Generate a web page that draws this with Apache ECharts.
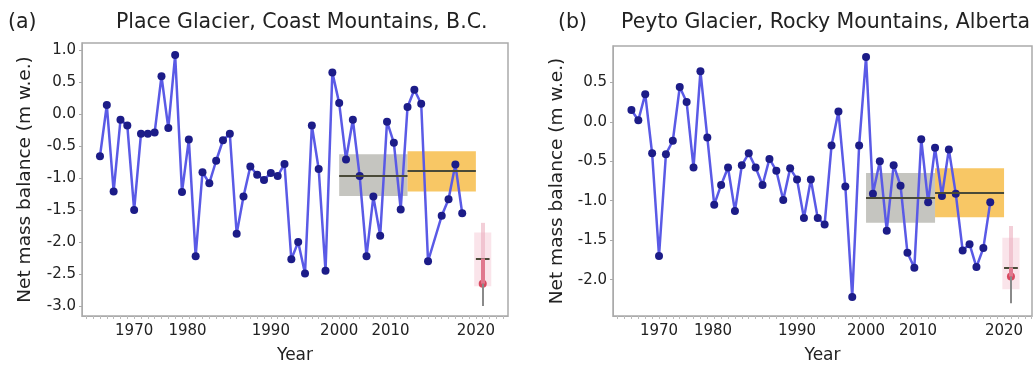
<!DOCTYPE html>
<html>
<head>
<meta charset="utf-8">
<script src="https://cdn.jsdelivr.net/npm/echarts@6/dist/echarts.min.js"></script>
<style>html,body{margin:0;padding:0;background:#fff;}#c{width:1035px;height:369px;}</style>
</head>
<body>
<div id="c"></div>
<script>
// ---------- DATA ----------
const yearsA = [1965,1966,1967,1968,1969,1970,1971,1972,1973,1974,1975,1976,1977,1978,1979,1980,1981,1982,1983,1984,1985,1986,1987,1988,1989,1990,1991,1992,1993,1994,1995,1996,1997,1998,1999,2000,2001,2002,2003,2004,2005,2006,2007,2008,2009,2010,2011,2012,2013,2015,2016,2017,2018];
const placeVals = [-0.66,0.14,-1.21,-0.09,-0.18,-1.50,-0.31,-0.31,-0.29,0.59,-0.22,0.92,-1.22,-0.40,-2.22,-0.91,-1.08,-0.73,-0.41,-0.31,-1.87,-1.29,-0.82,-0.95,-1.03,-0.92,-0.97,-0.78,-2.27,-2.00,-2.49,-0.18,-0.86,-2.45,0.65,0.17,-0.71,-0.09,-0.97,-2.22,-1.29,-1.90,-0.12,-0.45,-1.49,0.11,0.38,0.16,-2.30,-1.59,-1.33,-0.79,-1.55];

const yearsB = [1966,1967,1968,1969,1970,1971,1972,1973,1974,1975,1976,1977,1978,1979,1980,1981,1982,1983,1984,1985,1986,1987,1988,1989,1990,1991,1992,1993,1994,1995,1996,1997,1998,1999,2000,2001,2002,2003,2004,2005,2006,2007,2008,2009,2010,2011,2012,2013,2014,2015,2016,2017,2018];
const peytoVals = [0.15,0.02,0.35,-0.40,-1.70,-0.41,-0.24,0.44,0.25,-0.58,0.64,-0.20,-1.05,-0.80,-0.58,-1.13,-0.55,-0.40,-0.58,-0.80,-0.47,-0.62,-0.99,-0.59,-0.73,-1.22,-0.73,-1.22,-1.30,-0.30,0.13,-0.82,-2.22,-0.30,0.82,-0.91,-0.50,-1.38,-0.55,-0.81,-1.66,-1.85,-0.22,-1.02,-0.33,-0.94,-0.35,-0.91,-1.63,-1.55,-1.84,-1.60,-1.02];

// decadal periods: [start, end], mean, low, high
const periods = [[2000, 2010], [2010, 2020]];
const meansA = [-0.96, -0.89], lowsA = [-1.28, -1.21], highsA = [-0.63, -0.58];
const meansB = [-0.96, -0.90], lowsB = [-1.28, -1.21], highsB = [-0.65, -0.59];

// 2021 estimate: [year, boxHigh, boxLow, median, point, whiskerLow]
const forecastA = [2021, -1.85, -2.69, -2.26, -2.65, -3.00];
const forecastB = [2021, -1.47, -2.12, -1.85, -1.96, -2.30];

const xLabels = [1970, 1980, 1990, 2000, 2010, 2020];
const yLabelsA = [-3.0, -2.5, -2.0, -1.5, -1.0, -0.5, 0.0, 0.5, 1.0];
const yLabelsB = [-2.0, -1.5, -1.0, -0.5, 0.0, 0.5];
const titles = ['Place Glacier, Coast Mountains, B.C.', 'Peyto Glacier, Rocky Mountains, Alberta'];
const panelTags = ['(a)', '(b)'];

// ---------- CHART ----------
const FONT = 'DejaVu Sans';
const minorTicks = [];
for (let y = 1963; y <= 2024; y++) minorTicks.push(y);

function xAxis(gi, min, max) {
  return {
    type: 'value', gridIndex: gi, min: min, max: max,
    name: 'Year', nameLocation: 'middle', nameGap: 31,
    nameTextStyle: {fontFamily: FONT, fontSize: 17, color: '#222'},
    axisLine: {show: true, onZero: false, lineStyle: {color: '#aaa', width: 1}},
    axisTick: {show: true, length: 3, customValues: minorTicks, lineStyle: {color: '#bbb'}},
    splitLine: {show: false},
    axisLabel: {
      customValues: xLabels, margin: 8,
      fontFamily: FONT, fontSize: 15, color: '#222',
      formatter: v => v === 1980 ? '{l|1980}' : v === 2010 ? '{m|2010}' : String(v),
      rich: {
        l: {fontFamily: FONT, fontSize: 15, color: '#222', padding: [0, 30, 0, 0]},
        m: {fontFamily: FONT, fontSize: 15, color: '#222', padding: [0, 34, 0, 0]}
      }
    }
  };
}
function yAxis(gi, min, max, labels, gap) {
  return {
    type: 'value', gridIndex: gi, min: min, max: max,
    name: 'Net mass balance (m w.e.)', nameLocation: 'middle', nameGap: gap,
    nameTextStyle: {fontFamily: FONT, fontSize: 18.5, color: '#222'},
    axisLine: {show: true, onZero: false, lineStyle: {color: '#aaa'}},
    axisTick: {show: true, length: 3, customValues: labels, lineStyle: {color: '#aaa'}},
    splitLine: {show: false},
    axisLabel: {customValues: labels, margin: 6, fontFamily: FONT, fontSize: 15, color: '#222',
      formatter: v => Number(v).toFixed(1)}
  };
}

function panelSeries(gi, years, vals, means, lows, highs, fc) {
  const boxColors = ['rgba(150,150,140,0.55)', 'rgba(245,180,50,0.75)'];
  const areas = periods.map((p, i) => [
    {xAxis: p[0], yAxis: highs[i], itemStyle: {color: boxColors[i]}},
    {xAxis: p[1], yAxis: lows[i]}
  ]);
  areas.push([
    {xAxis: fc[0] - 1.25, yAxis: fc[1], itemStyle: {color: 'rgba(245,205,216,0.55)'}},
    {xAxis: fc[0] + 1.25, yAxis: fc[2]}
  ]);
  const meanLines = periods.map((p, i) => [
    {coord: [p[0], means[i]]}, {coord: [p[1], means[i]]}
  ]);
  return [
    {
      type: 'line', xAxisIndex: gi, yAxisIndex: gi, z: 1,
      data: [], silent: true,
      markArea: {silent: true, data: areas, itemStyle: {opacity: 1}},
      markLine: {silent: true, symbol: 'none', label: {show: false},
        lineStyle: {color: '#4a4a38', width: 2, type: 'solid'},
        data: meanLines.concat([
          [{coord: [fc[0] - 1.0, fc[3]]}, {coord: [fc[0] + 1.0, fc[3]]}]
        ])}
    },
    {
      type: 'line', xAxisIndex: gi, yAxisIndex: gi, z: 2,
      data: [], silent: true,
      markLine: {silent: true, symbol: 'none', label: {show: false},
        data: [
          [{coord: [fc[0], fc[1] + 0.15], lineStyle: {color: 'rgba(235,175,190,0.6)', width: 4, type: 'solid'}}, {coord: [fc[0], fc[3]]}],
          [{coord: [fc[0], fc[3]], lineStyle: {color: '#e0788e', width: 4, type: 'solid'}}, {coord: [fc[0], fc[4]]}],
          [{coord: [fc[0], fc[4]], lineStyle: {color: '#8a8a8a', width: 2, type: 'solid'}}, {coord: [fc[0], fc[5]]}]
        ]}
    },
    {
      type: 'line', xAxisIndex: gi, yAxisIndex: gi, z: 3,
      data: years.map((y, i) => [y, vals[i]]),
      symbol: 'circle', symbolSize: 8, showSymbol: true,
      lineStyle: {color: '#5a5ae6', width: 2.5},
      itemStyle: {color: '#1c1c88', borderWidth: 0}
    },
    {
      type: 'scatter', xAxisIndex: gi, yAxisIndex: gi, z: 4,
      data: [[fc[0], fc[4]]], symbolSize: 8,
      itemStyle: {color: '#d0203c'}
    }
  ];
}

const TT = {fontFamily: FONT, fontSize: 20.5, fontWeight: 'normal', color: '#222'};
const chart = echarts.init(document.getElementById('c'), null, {renderer: 'canvas'});
chart.setOption({
  animation: false,
  backgroundColor: '#fff',
  title: [
    {text: panelTags[0], left: 3, top: 7, textStyle: TT},
    {text: titles[0], left: 111, top: 7, textStyle: TT},
    {text: panelTags[1], left: 553, top: 7, textStyle: TT},
    {text: titles[1], left: 616, top: 7, textStyle: TT}
  ],
  grid: [
    {left: 82, top: 43, width: 426, height: 274, show: true, borderColor: '#aaa', borderWidth: 1.5, backgroundColor: 'transparent'},
    {left: 613, top: 46, width: 419, height: 273, show: true, borderColor: '#aaa', borderWidth: 1.5, backgroundColor: 'transparent'}
  ],
  xAxis: [xAxis(0, 1962.37, 2024.7), xAxis(1, 1963.33, 2024.05)],
  yAxis: [yAxis(0, -3.155, 1.109, yLabelsA, 47), yAxis(1, -2.46, 0.96, yLabelsB, 46)],
  series: [].concat(
    panelSeries(0, yearsA, placeVals, meansA, lowsA, highsA, forecastA),
    panelSeries(1, yearsB, peytoVals, meansB, lowsB, highsB, forecastB)
  )
});
</script>
</body>
</html>
